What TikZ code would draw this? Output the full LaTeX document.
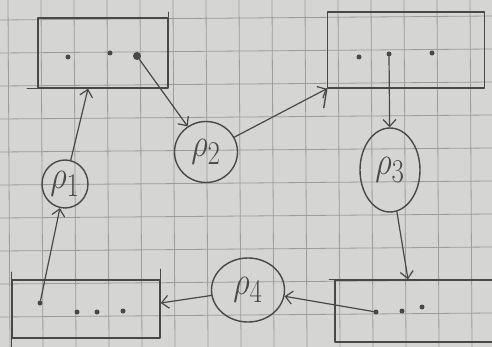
\documentclass[tikz,border=0pt]{standalone}
\usetikzlibrary{arrows.meta,shapes.geometric}
\definecolor{paper}{HTML}{D5D5D3}
\definecolor{gridline}{HTML}{9C9C9C}
\definecolor{pencil}{HTML}{484848}
\newcommand{\proclabel}[1]{\scalebox{1.3}[1.6]{$\rho_{#1}$}}
\begin{document}
\begin{tikzpicture}[x=1pt,y=-1pt,
  pen/.style={draw=pencil,line width=1.4pt,line cap=round,line join=round},
  box/.style={pen,rectangle,inner sep=0pt},
  proc/.style={pen,ellipse,inner sep=0pt,text=pencil,font=\Huge},
  dot/.style={circle,fill=pencil,inner sep=0pt,minimum size=5pt},
  bigdot/.style={dot,minimum size=8pt},
  arr/.style={draw=pencil,line width=1.2pt,line cap=round,-{Straight Barb[length=7pt,width=13pt,line width=1.2pt]}}]
% squared paper
\fill[paper] (0,0) rectangle (492,347);
\useasboundingbox (0,0) rectangle (492,347);
\foreach \x in {8,41,...,480} \draw[gridline,line width=0.8pt] (\x,0) -- (\x+2,347);
\foreach \y in {20,53,...,347} \draw[gridline,line width=0.8pt] (0,\y) -- (492,\y-4);
% buffers
\node[box,minimum width=130pt,minimum height=70pt] (tl) at (103,53) {};
\node[box,minimum width=157pt,minimum height=76pt] (tr) at (406,50) {};
\node[box,minimum width=148pt,minimum height=58pt] (bl) at (86,309) {};
\node[box,minimum width=170pt,minimum height=62pt] (br) at (420,311) {};
% overshooting strokes at the box corners
\draw[pen] (tl.south west) -- ([xshift=-10pt]tl.south west);
\draw[pen] (tl.north east) -- ([yshift=5pt]tl.north east);
\draw[pen] (tr.south west) -- ([xshift=-3pt,yshift=-19pt]tr.south west);
\draw[pen] ([yshift=7pt]bl.north west) -- ([yshift=-10pt]bl.south west);
\draw[pen] (bl.north east) -- ([yshift=10pt]bl.north east);
\draw[pen] (br.north west) -- ([xshift=-5pt]br.north west);
% entries
\node[dot] (tl1) at (68,57) {};
\node[dot] (tl2) at (110,53) {};
\node[bigdot] (tl3) at (137,56) {};
\node[dot] (tr1) at (359,57) {};
\node[dot] (tr2) at (389,54) {};
\node[dot] (tr3) at (432,53) {};
\node[dot] (bl1) at (40,303) {};
\node[dot] (bl2) at (77,312) {};
\node[dot] (bl3) at (97,312) {};
\node[dot] (bl4) at (123,311) {};
\node[dot] (br1) at (376,312) {};
\node[dot] (br2) at (402,311) {};
\node[dot] (br3) at (422,307) {};
% processes
\node[proc,minimum width=46pt,minimum height=48pt] (r1) at (65,184) {\proclabel{1}};
\node[proc,minimum width=63pt,minimum height=61pt] (r2) at (206,152) {\proclabel{2}};
\node[proc,minimum width=60pt,minimum height=84pt] (r3) at (390,170) {\proclabel{3}};
\node[proc,minimum width=73pt,minimum height=64pt] (r4) at (248,290) {\proclabel{4}};
% flow
\draw[arr] (bl1) -- (r1);
\draw[arr] (r1) -- ([xshift=-15pt]tl.south);
\draw[arr] (tl3) -- (r2);
\draw[arr] (r2) -- (tr.south west);
\draw[arr] (tr2) -- (r3);
\draw[arr] (r3) -- ([xshift=-12pt]br.north);
\draw[arr] (br1) -- (r4);
\draw[arr] (r4) -- ([yshift=6pt]bl.east);
\end{tikzpicture}
\end{document}
